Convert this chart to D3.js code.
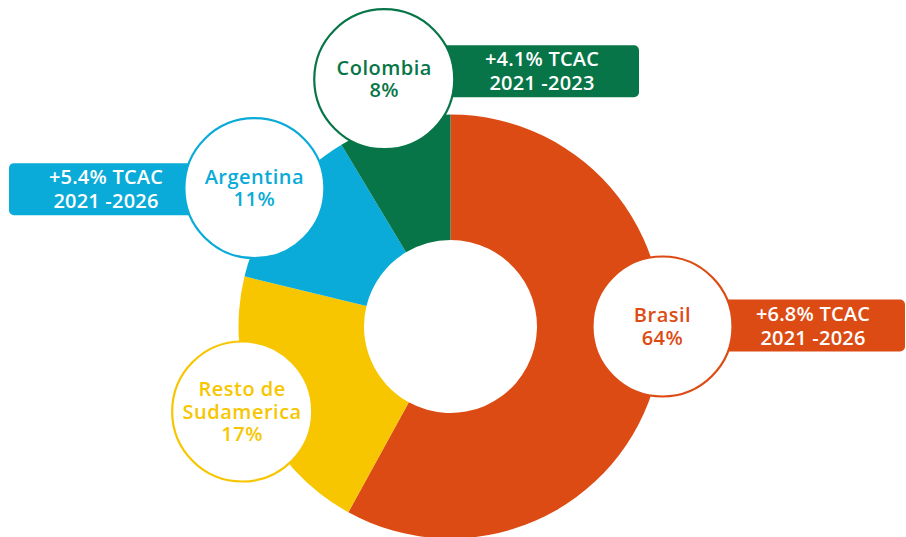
<!DOCTYPE html>
<html>
<head>
<meta charset="utf-8">
<script src="https://cdn.jsdelivr.net/npm/d3@7"></script>
<style>
  html, body { margin: 0; padding: 0; background: #fff; }
  svg { display: block; }
</style>
</head>
<body>
<div id="chart"></div>
<script>
// Data
const countries = ["Brasil", "Resto de\nSudamerica", "Argentina", "Colombia"];
const shares = [64, 17, 11, 8];               // percentages printed in the bubbles
const arcWeights = [58, 20.8, 12.6, 8.6];     // slice sizes as drawn in the picture
const growthLabels = ["+6.8% TCAC", null, "+5.4% TCAC", "+4.1% TCAC"];
const periodLabels = ["2021 -2026", null, "2021 -2026", "2021 -2023"];
const colors = ["#DD4B14", "#F7C600", "#0AABD8", "#077547"];

const width = 906, height = 537;
const center = [450.5, 326.5];
const outerR = 212, innerR = 86.5;
const bubbleR = 70;
const font = "'Open Sans', sans-serif";

// bubble layout: angle (deg clockwise from top) and distance from donut centre
const bubbleLayout = [
  { angle: 90, dist: 212 },
  { angle: 247.8, dist: 225 },
  { angle: 305.2, dist: 240 },
  { angle: 345, dist: 256 }
];
// tag boxes: horizontal extent, text centre, offset from bubble centre
const tagLayout = [
  { x0: 700, x1: 905, tx: 813, dy: -27 },
  null,
  { x0: 9, x1: 260, tx: 106, dy: -25 },
  { x0: 440, x1: 639, tx: 542, dy: -34 }
];

const svg = d3.select("#chart").append("svg")
  .attr("width", width).attr("height", height)
  .attr("viewBox", `0 0 ${width} ${height}`);

const items = countries.map((c, i) => ({
  name: c, share: shares[i], weight: arcWeights[i], color: colors[i],
  growth: growthLabels[i], period: periodLabels[i], i
}));

const pie = d3.pie().value(d => d.weight).sort(null);
const arc = d3.arc().innerRadius(innerR).outerRadius(outerR);

const donut = svg.append("g").attr("transform", `translate(${center[0]},${center[1]})`);
donut.selectAll("path").data(pie(items)).enter().append("path")
  .attr("d", arc)
  .attr("fill", d => d.data.color);

function bubblePos(i) {
  const l = bubbleLayout[i];
  const a = l.angle * Math.PI / 180;
  return [center[0] + l.dist * Math.sin(a), center[1] - l.dist * Math.cos(a)];
}

// Tag boxes (behind bubbles)
const tags = svg.append("g");
items.forEach((d, i) => {
  const t = tagLayout[i];
  if (!t) return;
  const [bx, by] = bubblePos(i);
  const y0 = by + t.dy;
  tags.append("rect")
    .attr("x", t.x0).attr("y", y0)
    .attr("width", t.x1 - t.x0).attr("height", 52)
    .attr("rx", 5)
    .attr("fill", d.color);
  const text = tags.append("text")
    .attr("text-anchor", "middle")
    .attr("font-family", font).attr("font-weight", 600).attr("font-size", 20)
    .attr("letter-spacing", 0.2)
    .attr("fill", "#fff");
  text.append("tspan").attr("x", t.tx).attr("y", y0 + 21).text(d.growth);
  text.append("tspan").attr("x", t.tx).attr("y", y0 + 45).text(d.period);
});

// Bubbles
const bubbles = svg.append("g");
items.forEach((d, i) => {
  const [bx, by] = bubblePos(i);
  bubbles.append("circle")
    .attr("cx", bx).attr("cy", by).attr("r", bubbleR)
    .attr("fill", "#fff")
    .attr("stroke", d.color).attr("stroke-width", 2.2);
  const lines = d.name.split("\n").concat([d.share + "%"]);
  const lh = 22.5;
  const first = by - (lines.length - 1) * lh / 2 + 7;
  const text = bubbles.append("text")
    .attr("text-anchor", "middle")
    .attr("font-family", font).attr("font-weight", 600).attr("font-size", 20)
    .attr("letter-spacing", 0.5)
    .attr("fill", d.color);
  lines.forEach((ln, k) => {
    text.append("tspan").attr("x", bx).attr("y", first + k * lh).text(ln);
  });
});
</script>
</body>
</html>
